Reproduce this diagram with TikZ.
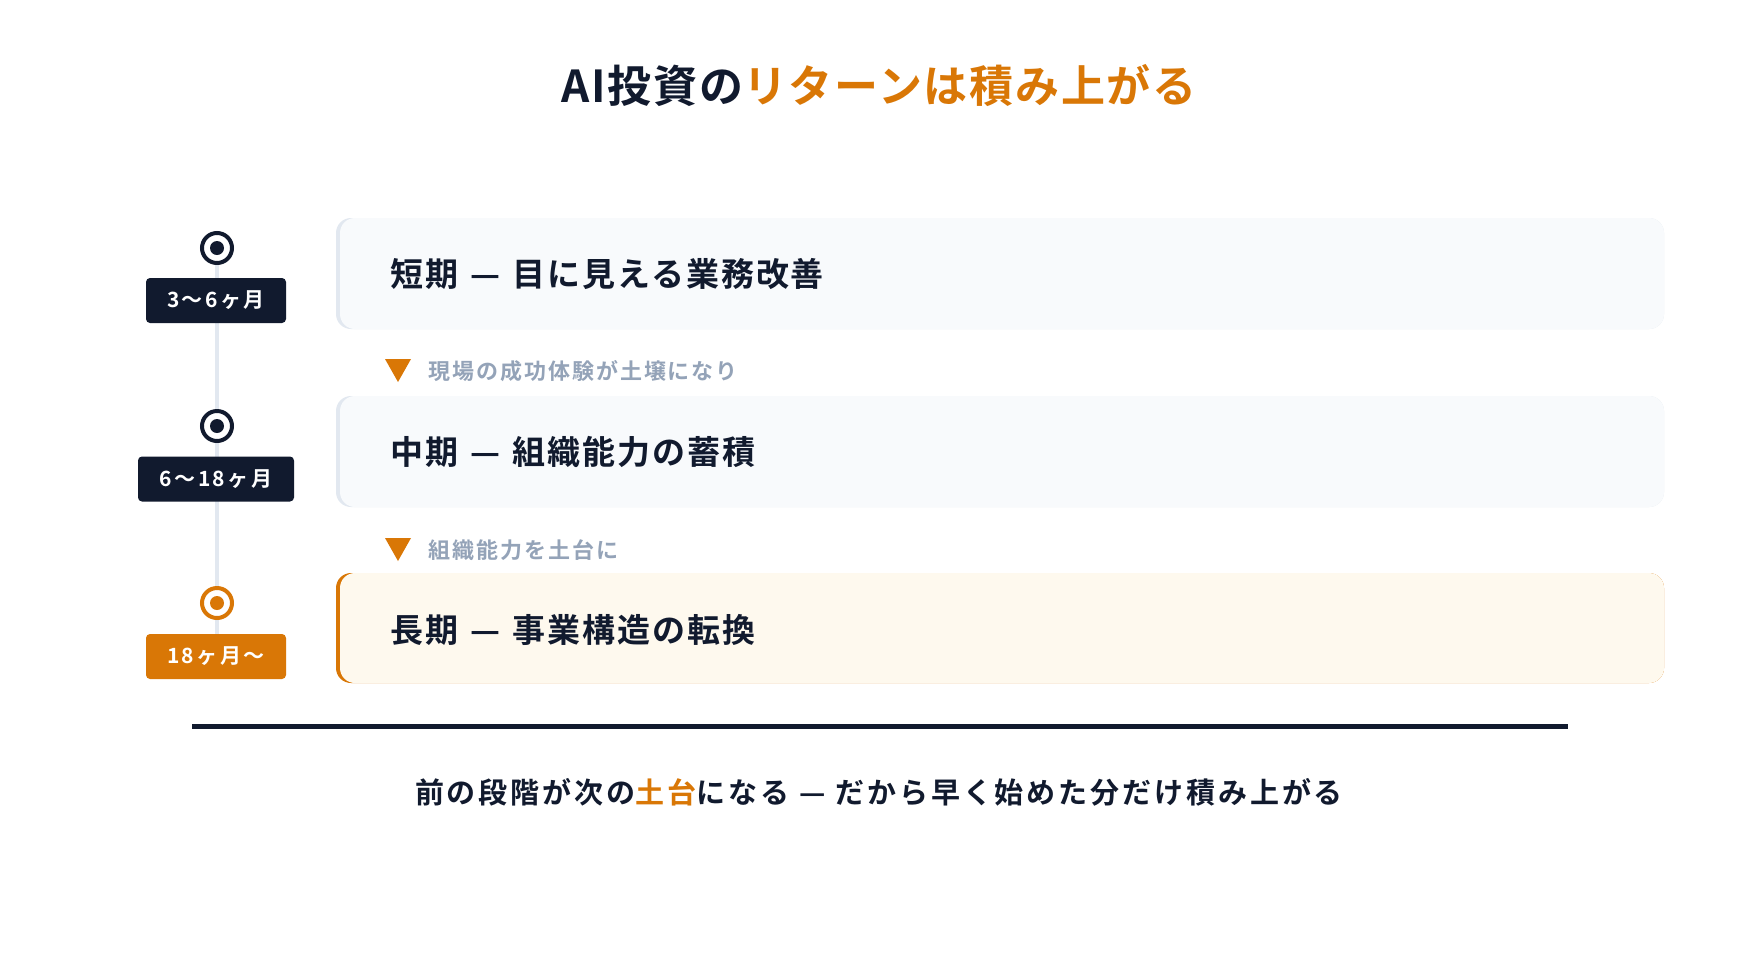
\documentclass[tikz,border=0pt]{standalone}
\usepackage{fontspec}
\setmainfont{Noto Sans CJK JP}[BoldFont={Noto Sans CJK JP Bold}]
\definecolor{navy}{HTML}{111A2E}
\definecolor{accent}{HTML}{D97706}
\definecolor{cardbg}{HTML}{F8FAFC}
\definecolor{cardhl}{HTML}{FEF9EE}
\definecolor{edge}{HTML}{E2E8F0}
\definecolor{muted}{HTML}{94A3B8}
\newcommand{\dsh}{\hspace{12pt}—\hspace{12pt}}
\tikzset{
  cardtext/.style={anchor=west, inner sep=0pt, font=\bfseries\fontsize{33}{40}\selectfont\addfontfeature{LetterSpace=6}, text=navy},
  note/.style={anchor=west, inner sep=0pt, font=\bfseries\fontsize{22}{26}\selectfont\addfontfeature{LetterSpace=9}, text=muted},
  badge/.style={rounded corners=4pt, inner sep=0pt, minimum height=45pt, text=white, font=\bfseries\fontsize{21}{26}\selectfont\addfontfeature{LetterSpace=12}},
  ring/.style={circle, draw=#1, line width=4pt, fill=white, minimum size=30pt, inner sep=0pt},
  dot/.style={circle, fill=#1, minimum size=14pt, inner sep=0pt},
  tri/.style={fill=accent},
}
\begin{document}
\begin{tikzpicture}[x=1pt,y=-1pt]
\useasboundingbox (0,0) rectangle (1760,954);
\fill[white] (0,0) rectangle (1760,954);
% title
\node[inner sep=0pt, font=\bfseries\fontsize{44}{52}\selectfont\addfontfeature{LetterSpace=4}] (title) at (879,86) {\textcolor{navy}{AI投資の}\textcolor{accent}{リターンは積み上がる}};
% timeline
\coordinate (t1) at (217,248);
\coordinate (t3b) at (217,634);
\draw[edge, line width=4pt] (t1) -- (t3b);
% cards
\fill[edge, rounded corners=15pt] (336,218) rectangle (1664,329);
\fill[cardbg, rounded corners=15pt] (340,218) rectangle (1664,329);
\fill[edge, rounded corners=15pt] (336,396) rectangle (1664,507);
\fill[cardbg, rounded corners=15pt] (340,396) rectangle (1664,507);
\fill[accent, rounded corners=15pt] (336,573) rectangle (1664,683);
\fill[cardhl, rounded corners=15pt] (340,573) rectangle (1664,683);
\node[cardtext] (c1) at (390,274) {短期\dsh 目に見える業務改善};
\node[cardtext] (c2) at (390,452) {中期\dsh 組織能力の蓄積};
\node[cardtext] (c3) at (390,630) {長期\dsh 事業構造の転換};
% circles
\node[ring=navy] (r1) at (217,248) {};
\node[dot=navy] at (r1) {};
\node[ring=navy] (r2) at (217,426) {};
\node[dot=navy] at (r2) {};
\node[ring=accent] (r3) at (217,603) {};
\node[dot=accent] at (r3) {};
% badges
\node[badge, fill=navy, minimum width=140pt] (b1) at (216,300.5) {3〜6ヶ月};
\node[badge, fill=navy, minimum width=156pt] (b2) at (216,479) {6〜18ヶ月};
\node[badge, fill=accent, minimum width=140pt] (b3) at (216,656.5) {18ヶ月〜};
% notes
\fill[tri] (385,359) -- (411,359) -- (398,382) -- cycle;
\node[note] (n1) at (428,371) {現場の成功体験が土壌になり};
\fill[tri] (385,538) -- (411,538) -- (398,561) -- cycle;
\node[note] (n2) at (428,550) {組織能力を土台に};
% rule
\coordinate (h1) at (192,726);
\coordinate (h2) at (1568,726);
\draw[navy, line width=5pt] (h1) -- (h2);
% bottom text
\node[inner sep=0pt, font=\bfseries\fontsize{29}{34}\selectfont\addfontfeature{LetterSpace=10}, text=navy] (foot) at (879,792) {前の段階が次の\textcolor{accent}{土台}になる\hspace{10pt}—\hspace{10pt}だから早く始めた分だけ積み上がる};
\end{tikzpicture}
\end{document}
